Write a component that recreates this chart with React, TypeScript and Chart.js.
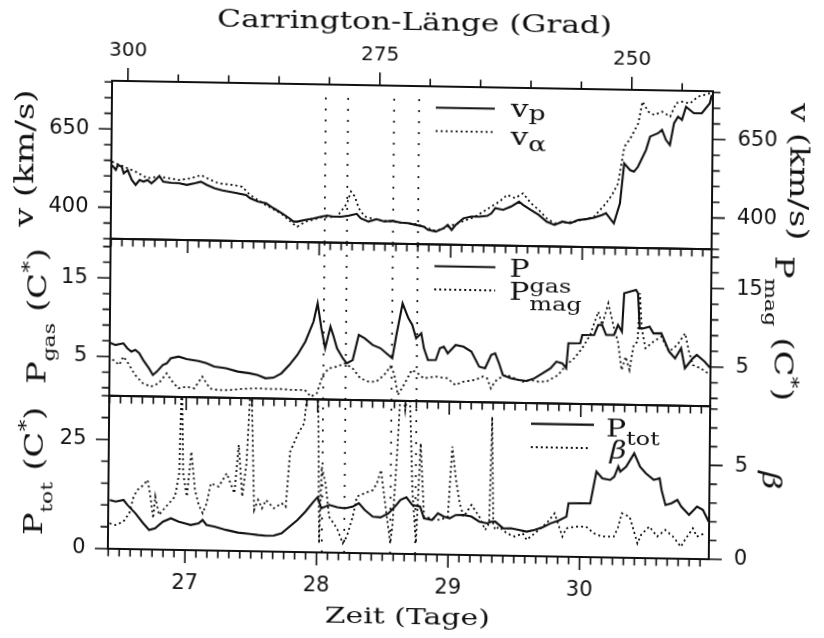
import { useEffect, useRef } from 'react';
import { Chart, registerables } from 'chart.js';

Chart.register(...registerables);

// ---------------------------------------------------------------- data
const dayTickLabels = [27, 28, 29, 30];
const carringtonTickLabels = [300, 275, 250];
const speedTickLabels = [400, 650];
const pressureTickLabels = [5, 15];
const totalPressureTickLabels = [0, 25];
const betaTickLabels = [0, 5];

// days of the four marked boundaries (dotted verticals)
const markerDays = [28.04, 28.21, 28.56, 28.75];

// proton speed v_p, km/s  [day, value]
const speedProton: [number, number][] = [
  [26.419, 535], [26.449, 520], [26.464, 536], [26.494, 530], [26.509, 509], [26.539, 520], [26.57, 489],
  [26.6, 473], [26.63, 489], [26.66, 484], [26.69, 489], [26.72, 479], [26.75, 490], [26.78, 503],
  [26.81, 485], [26.87, 482], [26.93, 481], [26.99, 476], [27.051, 482], [27.096, 487], [27.141, 477],
  [27.201, 467], [27.261, 460], [27.351, 454], [27.441, 447], [27.471, 437], [27.532, 427], [27.592, 422],
  [27.652, 406], [27.712, 391], [27.772, 375], [27.802, 365], [27.832, 365], [27.892, 371], [27.953, 376],
  [28.013, 382], [28.058, 386], [28.103, 383], [28.163, 383], [28.223, 387], [28.283, 393], [28.313, 379],
  [28.373, 369], [28.434, 377], [28.494, 370], [28.554, 373], [28.614, 368], [28.674, 366], [28.734, 361],
  [28.794, 356], [28.825, 346], [28.885, 341], [28.945, 352], [28.975, 363], [29.005, 347], [29.035, 363],
  [29.095, 385], [29.155, 391], [29.215, 391], [29.275, 394], [29.306, 402], [29.336, 419], [29.396, 414],
  [29.456, 425], [29.516, 441], [29.546, 431], [29.606, 415], [29.666, 400], [29.727, 379], [29.787, 369],
  [29.847, 380], [29.907, 375], [29.967, 386], [30.027, 389], [30.087, 394], [30.147, 403], [30.178, 409],
  [30.208, 393], [30.238, 377], [30.283, 441], [30.313, 569], [30.358, 548], [30.388, 543], [30.418, 559],
  [30.478, 613], [30.508, 656], [30.568, 667], [30.598, 678], [30.629, 646], [30.659, 630], [30.689, 700],
  [30.719, 721], [30.749, 711], [30.779, 753], [30.839, 733], [30.899, 733], [30.959, 765], [30.974, 792],
];

// alpha-particle speed v_alpha, km/s
const speedAlpha: [number, number][] = [
  [26.419, 546], [26.509, 531], [26.6, 515], [26.69, 495], [26.78, 501], [26.93, 491], [27.02, 497],
  [27.096, 508], [27.171, 493], [27.231, 483], [27.351, 478], [27.411, 473], [27.471, 447], [27.592, 416],
  [27.712, 389], [27.802, 357], [27.832, 349], [27.892, 365], [28.013, 380], [28.133, 383], [28.208, 426],
  [28.238, 464], [28.268, 448], [28.298, 411], [28.343, 385], [28.434, 375], [28.554, 370], [28.734, 364],
  [28.885, 343], [29.035, 366], [29.185, 391], [29.306, 424], [29.366, 440], [29.426, 462], [29.486, 452],
  [29.546, 468], [29.606, 437], [29.666, 416], [29.727, 389], [29.787, 374], [29.937, 380], [30.087, 397],
  [30.178, 441], [30.223, 468], [30.268, 505], [30.313, 622], [30.358, 649], [30.418, 698], [30.448, 767],
  [30.493, 735], [30.538, 725], [30.598, 736], [30.659, 721], [30.704, 764], [30.749, 769], [30.809, 764],
  [30.869, 786], [30.959, 797],
];

// gas pressure, C*
const pressureGas: [number, number][] = [
  [26.398, 6.89], [26.458, 6.48], [26.518, 6.71], [26.548, 6.08], [26.579, 5.67], [26.609, 5.89], [26.639, 5.47],
  [26.669, 4.63], [26.714, 3.58], [26.744, 2.74], [26.774, 3.17], [26.819, 4.04], [26.849, 4.26], [26.879, 4.9],
  [26.939, 5.14], [27.0, 4.85], [27.09, 4.63], [27.15, 4.35], [27.21, 3.94], [27.3, 3.75], [27.39, 3.36],
  [27.481, 3.17], [27.541, 2.97], [27.601, 2.57], [27.661, 2.67], [27.721, 3.24], [27.781, 4.32], [27.841, 5.61],
  [27.901, 7.33], [27.962, 9.9], [27.992, 12.24], [28.022, 9.06], [28.052, 6.52], [28.091, 9.29], [28.112, 8.24],
  [28.142, 6.55], [28.187, 5.29], [28.217, 4.66], [28.262, 5.09], [28.307, 8.3], [28.352, 7.88], [28.413, 7.05],
  [28.473, 6.65], [28.518, 6.02], [28.563, 5.4], [28.593, 8.38], [28.638, 12.42], [28.683, 10.53], [28.713, 9.69],
  [28.743, 8.0], [28.782, 8.65], [28.803, 6.74], [28.834, 5.26], [28.894, 5.28], [28.924, 6.78], [28.954, 7.0],
  [28.984, 6.16], [29.044, 7.23], [29.104, 7.04], [29.164, 6.43], [29.224, 4.53], [29.269, 4.33], [29.315, 6.04],
  [29.345, 6.26], [29.375, 5.0], [29.405, 3.52], [29.465, 3.12], [29.525, 2.92], [29.585, 2.81], [29.645, 3.17],
  [29.705, 3.82], [29.766, 4.48], [29.811, 5.34], [29.856, 5.14], [29.886, 4.51], [29.901, 7.71], [29.991, 7.73],
  [30.006, 8.8], [30.096, 8.82], [30.126, 10.1], [30.156, 10.11], [30.187, 8.85], [30.247, 8.87], [30.277, 10.15],
  [30.307, 9.3], [30.322, 14.2], [30.412, 14.65], [30.427, 14.23], [30.442, 9.77], [30.472, 9.78], [30.517, 10.01],
  [30.547, 9.16], [30.607, 9.18], [30.667, 6.87], [30.713, 6.03], [30.758, 7.32], [30.788, 4.78], [30.848, 6.07],
  [30.878, 6.5], [30.938, 5.67], [30.983, 4.83],
];

// magnetic pressure, C*
const pressureMag: [number, number][] = [
  [26.398, 4.77], [26.443, 4.56], [26.488, 3.94], [26.518, 5.01], [26.548, 4.38], [26.609, 2.7], [26.669, 1.66],
  [26.729, 1.25], [26.789, 1.69], [26.849, 2.98], [26.894, 1.93], [26.939, 1.1], [27.0, 1.33], [27.06, 1.13],
  [27.12, 2.64], [27.18, 1.13], [27.24, 0.97], [27.33, 0.99], [27.42, 1.16], [27.541, 1.27], [27.631, 1.22],
  [27.721, 1.24], [27.811, 1.14], [27.901, 1.17], [27.947, 0.33], [27.992, 0.77], [28.037, 3.12], [28.082, 3.98],
  [28.142, 4.21], [28.202, 4.66], [28.262, 4.03], [28.322, 2.78], [28.383, 2.37], [28.443, 2.39], [28.503, 3.26],
  [28.548, 4.33], [28.578, 3.49], [28.608, 0.74], [28.653, 2.03], [28.713, 3.96], [28.758, 3.54], [28.803, 2.92],
  [28.894, 3.16], [28.984, 2.98], [29.044, 2.14], [29.104, 2.58], [29.194, 2.83], [29.254, 3.27], [29.285, 3.06],
  [29.315, 1.79], [29.345, 2.65], [29.375, 3.08], [29.435, 3.53], [29.495, 3.12], [29.555, 2.71], [29.615, 2.95],
  [29.675, 2.74], [29.736, 2.76], [29.826, 3.64], [29.886, 4.94], [29.946, 5.81], [30.006, 7.1], [30.066, 8.81],
  [30.126, 11.8], [30.156, 10.11], [30.202, 12.88], [30.247, 9.72], [30.277, 8.03], [30.307, 4.42], [30.337, 6.13],
  [30.367, 4.44], [30.397, 7.63], [30.427, 8.07], [30.442, 14.23], [30.457, 9.78], [30.487, 7.24], [30.547, 8.1],
  [30.607, 8.76], [30.667, 6.87], [30.728, 7.73], [30.788, 9.24], [30.818, 6.91], [30.848, 5.22], [30.908, 4.81],
  [30.983, 3.98],
];

// total pressure, C*
const pressureTotal: [number, number][] = [
  [26.425, 11.16], [26.47, 10.8], [26.53, 11.21], [26.56, 10.09], [26.621, 8.21], [26.681, 5.95], [26.726, 4.46],
  [26.771, 4.86], [26.831, 6.41], [26.891, 7.21], [26.951, 6.48], [26.996, 6.12], [27.042, 5.76], [27.102, 6.18],
  [27.132, 6.95], [27.162, 5.83], [27.222, 5.48], [27.312, 4.77], [27.402, 4.2], [27.493, 3.94], [27.553, 3.74],
  [27.613, 3.62], [27.673, 3.65], [27.733, 4.22], [27.793, 5.78], [27.853, 7.33], [27.913, 9.27], [27.974, 11.59],
  [28.004, 12.6], [28.034, 10.1], [28.094, 10.9], [28.154, 10.39], [28.214, 10.19], [28.274, 10.61], [28.319, 11.4],
  [28.364, 9.89], [28.425, 8.4], [28.485, 8.27], [28.545, 9.23], [28.605, 11.17], [28.635, 12.32], [28.68, 12.96],
  [28.725, 11.23], [28.785, 10.88], [28.815, 8.23], [28.876, 7.87], [28.921, 9.42], [28.966, 8.69], [29.011, 8.33],
  [29.056, 9.11], [29.116, 9.14], [29.176, 8.8], [29.236, 7.68], [29.296, 7.33], [29.327, 7.73], [29.357, 7.74],
  [29.387, 7.0], [29.417, 6.25], [29.477, 6.29], [29.537, 5.94], [29.597, 5.59], [29.657, 6.0], [29.717, 6.64],
  [29.778, 7.58], [29.838, 8.23], [29.898, 9.18], [29.913, 12.24], [30.078, 12.32], [30.123, 19.59], [30.168, 18.09],
  [30.228, 17.74], [30.259, 18.52], [30.289, 20.82], [30.304, 19.68], [30.349, 20.86], [30.409, 23.94], [30.454, 20.91],
  [30.499, 19.4], [30.559, 17.92], [30.604, 18.32], [30.619, 15.66], [30.65, 12.24], [30.695, 12.65], [30.74, 13.43],
  [30.77, 11.93], [30.83, 10.05], [30.89, 11.99], [30.935, 11.24], [30.98, 8.6],
];

// plasma beta (values above the axis top run off the panel)
const plasmaBeta: [number, number][] = [
  [26.425, 1.36], [26.47, 1.27], [26.53, 1.46], [26.575, 1.91], [26.606, 2.8], [26.636, 3.16], [26.681, 3.43],
  [26.711, 3.7], [26.726, 3.17], [26.741, 2.46], [26.756, 1.66], [26.771, 2.82], [26.801, 1.85], [26.831, 2.12],
  [26.876, 2.48], [26.921, 2.84], [26.951, 4.08], [26.966, 9.5], [26.981, 4.09], [27.011, 2.85], [27.042, 5.25],
  [27.072, 3.21], [27.102, 2.41], [27.132, 1.98], [27.162, 2.51], [27.192, 3.58], [27.252, 3.41], [27.312, 4.13],
  [27.372, 3.07], [27.402, 5.65], [27.432, 2.9], [27.462, 4.68], [27.493, 9.5], [27.523, 2.2], [27.553, 2.74],
  [27.583, 2.3], [27.613, 2.74], [27.673, 2.31], [27.733, 2.58], [27.763, 2.4], [27.793, 5.34], [27.853, 6.32],
  [27.898, 6.86], [27.913, 7.93], [27.944, 9.5], [28.004, 7.94], [28.019, 0.48], [28.034, 4.57], [28.064, 3.69],
  [28.094, 1.91], [28.154, 1.3], [28.199, 0.51], [28.229, 0.87], [28.274, 1.94], [28.304, 3.01], [28.364, 3.2],
  [28.425, 3.37], [28.455, 3.74], [28.485, 4.45], [28.515, 2.86], [28.56, 0.55], [28.575, 1.44], [28.605, 5.18],
  [28.635, 9.5], [28.665, 7.66], [28.695, 9.5], [28.725, 3.41], [28.755, 0.59], [28.785, 5.91], [28.815, 2.0],
  [28.876, 1.92], [28.936, 1.84], [28.996, 2.02], [29.026, 5.76], [29.056, 3.99], [29.086, 2.75], [29.116, 2.04],
  [29.176, 2.67], [29.236, 2.05], [29.281, 1.35], [29.311, 1.71], [29.327, 7.39], [29.342, 1.71], [29.357, 1.37],
  [29.387, 1.54], [29.447, 1.19], [29.507, 1.03], [29.567, 1.2], [29.597, 0.86], [29.657, 1.21], [29.748, 1.77],
  [29.808, 2.3], [29.868, 1.07], [29.898, 1.51], [29.958, 1.61], [30.048, 1.62], [30.108, 1.27], [30.168, 1.11],
  [30.259, 1.12], [30.289, 1.56], [30.319, 2.37], [30.379, 2.19], [30.409, 1.49], [30.439, 0.78], [30.469, 1.26],
  [30.529, 1.68], [30.589, 1.16], [30.65, 1.52], [30.71, 1.17], [30.77, 0.64], [30.8, 1.01], [30.86, 1.63],
  [30.89, 1.19], [30.95, 1.37],
];

// ---------------------------------------------------------------- layout
const W = 824;
const H = 638;
const PLOT_LEFT = 110;
const PLOT_RIGHT = 711;
const EDGES = [86, 244, 401, 554]; // top of panel 1 … bottom of panel 3
const DAY_MIN = 26.414;
const DAY_MAX = 30.983;
const CARR_AT_LEFT = 301.57;
const CARR_AT_RIGHT = 241.94;

const SPEED_RANGE = [300, 804];
const PRESSURE_RANGE = [0, 20];
const TOTAL_RANGE = [0, 35];
const BETA_RANGE = [0, 8.15];

const INK = '#111';
const SERIF = '"DejaVu Serif", serif';
const TICK_FONT = { family: '"DejaVu Sans", sans-serif', size: 21 };
const MAJOR_LEN = 13;
const MINOR_LEN = 7.5;
const SOLID_WIDTH = 2.1;
const DOT_WIDTH = 1.8;

type Mark = { v: number; major: boolean };
type MarkSet = { scale: string; side: 'left' | 'right' | 'top' | 'bottom'; marks: Mark[] };
type Run = { t: string; s?: number; dy?: number; it?: boolean };
type TextItem = {
  runs: Run[]; x: number; y: number; angle: number; size: number; stretch: number; align: 'left' | 'center';
};
type KeyLine = { x0: number; x1: number; y: number; dotted: boolean };

function marks(from: number, to: number, step: number, majors: number[]): Mark[] {
  const out: Mark[] = [];
  const n = Math.round((to - from) / step);
  for (let i = 0; i <= n; i++) {
    const v = from + i * step;
    out.push({ v, major: majors.some((m) => Math.abs(m - v) < 1e-6) });
  }
  return out;
}

// two-hour marks along the time axis, longer ones at whole days
const dayMarks: Mark[] = (() => {
  const out: Mark[] = [];
  for (let k = Math.ceil(DAY_MIN * 12); k <= Math.floor(DAY_MAX * 12); k++) {
    out.push({ v: k / 12, major: k % 12 === 0 });
  }
  return out;
})();
const carringtonMarks = marks(245, 300, 5, carringtonTickLabels);
const speedMarks = marks(300, 800, 50, speedTickLabels);
const pressureMarks = marks(1, 19, 2, pressureTickLabels);
const totalMarks = marks(0, 35, 5, totalPressureTickLabels);
const betaMarks = marks(0, 8, 1, betaTickLabels);

// text with sub/superscript runs, optionally rotated and widened
function drawRich(ctx: CanvasRenderingContext2D, item: TextItem) {
  ctx.save();
  ctx.translate(item.x, item.y);
  ctx.rotate(item.angle);
  ctx.scale(item.stretch, 1);
  ctx.textAlign = 'left';
  ctx.textBaseline = 'alphabetic';
  const fontFor = (r: Run) => `${r.it ? 'italic ' : ''}${item.size * (r.s ?? 1)}px ${SERIF}`;
  const widths = item.runs.map((r) => {
    ctx.font = fontFor(r);
    return ctx.measureText(r.t).width;
  });
  const total = widths.reduce((a, b) => a + b, 0);
  let cx = item.align === 'center' ? -total / 2 : 0;
  item.runs.forEach((r, i) => {
    ctx.font = fontFor(r);
    ctx.fillText(r.t, cx, (r.dy ?? 0) * item.size);
    cx += widths[i];
  });
  ctx.restore();
}

// panel frame, tick marks on every side, legend keys and labels
function panelOverlay(markSets: MarkSet[], texts: TextItem[], keys: KeyLine[]) {
  return {
    id: 'panelOverlay',
    afterDraw(chart: any) {
      const { ctx, chartArea: a } = chart;
      ctx.save();
      ctx.strokeStyle = INK;
      ctx.fillStyle = INK;
      ctx.lineWidth = 2;
      ctx.strokeRect(a.left, a.top, a.right - a.left, a.bottom - a.top);
      ctx.lineWidth = 1.6;
      ctx.beginPath();
      for (const set of markSets) {
        const sc = chart.scales[set.scale];
        for (const m of set.marks) {
          const p = sc.getPixelForValue(m.v);
          const len = m.major ? MAJOR_LEN : MINOR_LEN;
          if (set.side === 'left') { ctx.moveTo(a.left, p); ctx.lineTo(a.left - len, p); }
          if (set.side === 'right') { ctx.moveTo(a.right, p); ctx.lineTo(a.right + len, p); }
          if (set.side === 'top') { ctx.moveTo(p, a.top); ctx.lineTo(p, a.top - len); }
          if (set.side === 'bottom') { ctx.moveTo(p, a.bottom); ctx.lineTo(p, a.bottom + len); }
        }
      }
      ctx.stroke();
      for (const k of keys) {
        ctx.beginPath();
        ctx.setLineDash(k.dotted ? [2, 3] : []);
        ctx.lineWidth = k.dotted ? DOT_WIDTH : SOLID_WIDTH;
        ctx.moveTo(k.x0, k.y);
        ctx.lineTo(k.x1, k.y);
        ctx.stroke();
      }
      ctx.setLineDash([]);
      for (const t of texts) drawRich(ctx, t);
      ctx.restore();
    },
  };
}

function series(points: [number, number][], yAxisID: string, dotted: boolean) {
  return {
    data: points.map(([x, y]) => ({ x, y })),
    xAxisID: 'x',
    yAxisID,
    borderColor: INK,
    borderWidth: dotted ? DOT_WIDTH : SOLID_WIDTH,
    borderDash: dotted ? [2, 3] : [],
    pointRadius: 0,
    tension: 0,
  };
}

function markerLines(lo: number, hi: number) {
  return markerDays.map((d) => ({
    data: [{ x: d, y: lo }, { x: d, y: hi }],
    xAxisID: 'x',
    yAxisID: 'y',
    borderColor: INK,
    borderWidth: 1.7,
    borderDash: [2, 9],
    pointRadius: 0,
  }));
}

function dayAxis(height: number, showLabels: boolean) {
  return {
    type: 'linear',
    position: 'bottom',
    min: DAY_MIN,
    max: DAY_MAX,
    afterBuildTicks: (s: any) => { s.ticks = dayTickLabels.map((value) => ({ value })); },
    afterFit: (s: any) => { s.height = height; },
    grid: { display: false, drawTicks: false },
    border: { display: false },
    ticks: {
      display: showLabels, font: TICK_FONT, color: INK, padding: 21.4,
      autoSkip: false, maxRotation: 0, minRotation: 0,
    },
  };
}

function valueAxis(position: 'left' | 'right', range: number[], labels: number[]) {
  return {
    type: 'linear',
    position,
    min: range[0],
    max: range[1],
    afterBuildTicks: (s: any) => { s.ticks = labels.map((value) => ({ value })); },
    afterFit: (s: any) => { s.width = position === 'left' ? PLOT_LEFT : W - PLOT_RIGHT; },
    grid: { display: false, drawTicks: false },
    border: { display: false },
    ticks: { font: TICK_FONT, color: INK, padding: position === 'left' ? 22.5 : 25, autoSkip: false },
  };
}

const baseOptions = {
  responsive: false,
  maintainAspectRatio: false,
  animation: false,
  devicePixelRatio: 1,
  events: [],
  plugins: { legend: { display: false }, tooltip: { enabled: false } },
};

const UP = -Math.PI / 2;
const DOWN = Math.PI / 2;
const mid = (i: number) => (EDGES[i] + EDGES[i + 1]) / 2;

function speedPanel() {
  const texts: TextItem[] = [
    { runs: [{ t: 'Carrington-Länge (Grad)' }], x: 412, y: 30, angle: 0, size: 24, stretch: 1.3, align: 'center' },
    { runs: [{ t: 'v (km/s)' }], x: 31.5, y: mid(0), angle: UP, size: 26, stretch: 1.3, align: 'center' },
    { runs: [{ t: 'v (km/s)' }], x: 789, y: mid(0), angle: DOWN, size: 26, stretch: 1.3, align: 'center' },
    { runs: [{ t: 'v' }, { t: 'p', s: 0.85, dy: 0.12 }], x: 509, y: 115, angle: 0, size: 25, stretch: 1.25, align: 'left' },
    { runs: [{ t: 'v' }, { t: 'α', s: 0.85, dy: 0.25 }], x: 509, y: 143, angle: 0, size: 25, stretch: 1.25, align: 'left' },
  ];
  const keys: KeyLine[] = [
    { x0: 434, x1: 493, y: 107.3, dotted: false },
    { x0: 434, x1: 493, y: 130.7, dotted: true },
  ];
  const sets: MarkSet[] = [
    { scale: 'xTop', side: 'top', marks: carringtonMarks },
    { scale: 'y', side: 'left', marks: speedMarks },
    { scale: 'yR', side: 'right', marks: speedMarks },
    { scale: 'x', side: 'bottom', marks: dayMarks },
  ];
  return {
    type: 'line',
    data: {
      datasets: [
        series(speedProton, 'y', false),
        series(speedAlpha, 'y', true),
        ...markerLines(300, 782),
      ],
    },
    options: {
      ...baseOptions,
      layout: { padding: 0 },
      scales: {
        x: dayAxis(H - EDGES[1], false),
        xTop: {
          type: 'linear',
          position: 'top',
          reverse: true,
          min: CARR_AT_RIGHT,
          max: CARR_AT_LEFT,
          afterBuildTicks: (s: any) => { s.ticks = carringtonTickLabels.map((value) => ({ value })); },
          afterFit: (s: any) => { s.height = EDGES[0]; },
          grid: { display: false, drawTicks: false },
          border: { display: false },
          ticks: {
            font: { ...TICK_FONT, size: 20 }, color: INK, padding: 18.2,
            autoSkip: false, maxRotation: 0, minRotation: 0,
          },
        },
        y: valueAxis('left', SPEED_RANGE, speedTickLabels),
        yR: valueAxis('right', SPEED_RANGE, speedTickLabels),
      },
    },
    plugins: [panelOverlay(sets, texts, keys)],
  };
}

function pressurePanel() {
  const texts: TextItem[] = [
    {
      runs: [{ t: 'P' }, { t: 'gas', s: 0.65, dy: 0.38 }, { t: ' (C' }, { t: '*', s: 0.7, dy: -0.42 }, { t: ')' }],
      x: 45.5, y: mid(1), angle: UP, size: 26, stretch: 1.3, align: 'center',
    },
    {
      runs: [{ t: 'P' }, { t: 'mag', s: 0.65, dy: 0.38 }, { t: ' (C' }, { t: '*', s: 0.7, dy: -0.42 }, { t: ')' }],
      x: 775, y: 322, angle: DOWN, size: 26, stretch: 1.3, align: 'center',
    },
    { runs: [{ t: 'P' }, { t: 'gas', s: 0.8, dy: 0.62 }], x: 509, y: 275, angle: 0, size: 24, stretch: 1.25, align: 'left' },
    { runs: [{ t: 'P' }, { t: 'mag', s: 0.8, dy: 0.4 }], x: 509, y: 298.3, angle: 0, size: 24, stretch: 1.25, align: 'left' },
  ];
  const keys: KeyLine[] = [
    { x0: 434, x1: 495, y: 265.7, dotted: false },
    { x0: 434, x1: 495, y: 289, dotted: true },
  ];
  const sets: MarkSet[] = [
    { scale: 'y', side: 'left', marks: pressureMarks },
    { scale: 'yR', side: 'right', marks: pressureMarks },
    { scale: 'x', side: 'bottom', marks: dayMarks },
  ];
  return {
    type: 'line',
    data: {
      datasets: [
        series(pressureGas, 'y', false),
        series(pressureMag, 'yR', true),
        ...markerLines(PRESSURE_RANGE[0], PRESSURE_RANGE[1]),
      ],
    },
    options: {
      ...baseOptions,
      layout: { padding: { top: EDGES[1], left: 0, right: 0, bottom: 0 } },
      scales: {
        x: dayAxis(H - EDGES[2], false),
        y: valueAxis('left', PRESSURE_RANGE, pressureTickLabels),
        yR: valueAxis('right', PRESSURE_RANGE, pressureTickLabels),
      },
    },
    plugins: [panelOverlay(sets, texts, keys)],
  };
}

function totalPanel() {
  const texts: TextItem[] = [
    { runs: [{ t: 'Zeit (Tage)' }], x: 410, y: 624, angle: 0, size: 23, stretch: 1.3, align: 'center' },
    {
      runs: [{ t: 'P' }, { t: 'tot', s: 0.65, dy: 0.38 }, { t: ' (C' }, { t: '*', s: 0.7, dy: -0.42 }, { t: ')' }],
      x: 44, y: mid(2), angle: UP, size: 26, stretch: 1.3, align: 'center',
    },
    { runs: [{ t: 'β', it: true }], x: 764, y: 474, angle: DOWN, size: 26, stretch: 1.2, align: 'center' },
    { runs: [{ t: 'P' }, { t: 'tot', s: 0.8, dy: 0.3 }], x: 607, y: 433.3, angle: 0, size: 24, stretch: 1.25, align: 'left' },
    { runs: [{ t: 'β', it: true }], x: 611, y: 455, angle: 0, size: 24, stretch: 1.2, align: 'left' },
  ];
  const keys: KeyLine[] = [
    { x0: 532, x1: 595, y: 421.6, dotted: false },
    { x0: 532, x1: 591, y: 445, dotted: true },
  ];
  const sets: MarkSet[] = [
    { scale: 'y', side: 'left', marks: totalMarks },
    { scale: 'yR', side: 'right', marks: betaMarks },
    { scale: 'x', side: 'bottom', marks: dayMarks },
  ];
  return {
    type: 'line',
    data: {
      datasets: [
        series(pressureTotal, 'y', false),
        series(plasmaBeta, 'yR', true),
        ...markerLines(TOTAL_RANGE[0], TOTAL_RANGE[1]),
      ],
    },
    options: {
      ...baseOptions,
      layout: { padding: { top: EDGES[2], left: 0, right: 0, bottom: 0 } },
      scales: {
        x: dayAxis(H - EDGES[3], true),
        y: valueAxis('left', TOTAL_RANGE, totalPressureTickLabels),
        yR: valueAxis('right', BETA_RANGE, betaTickLabels),
      },
    },
    plugins: [panelOverlay(sets, texts, keys)],
  };
}

function PanelCanvas({ build }: { build: () => any }) {
  const ref = useRef<HTMLCanvasElement>(null);
  useEffect(() => {
    const chart = new Chart(ref.current as HTMLCanvasElement, build());
    return () => chart.destroy();
  }, [build]);
  return (
    <canvas
      ref={ref}
      width={W}
      height={H}
      style={{ position: 'absolute', left: 0, top: 0, width: W, height: H }}
    />
  );
}

export default function App() {
  return (
    <div style={{ position: 'fixed', left: 0, top: 0, width: W, height: H, overflow: 'hidden', background: '#fff' }}>
      {/* the whole figure sits slightly tilted on the page */}
      <div
        style={{
          position: 'absolute',
          left: 0,
          top: 0,
          width: W,
          height: H,
          transform: 'matrix(1, 0.0175, -0.009, 1, 0, 0)',
          transformOrigin: '410px 320px',
        }}
      >
        <PanelCanvas build={speedPanel} />
        <PanelCanvas build={pressurePanel} />
        <PanelCanvas build={totalPanel} />
      </div>
    </div>
  );
}
